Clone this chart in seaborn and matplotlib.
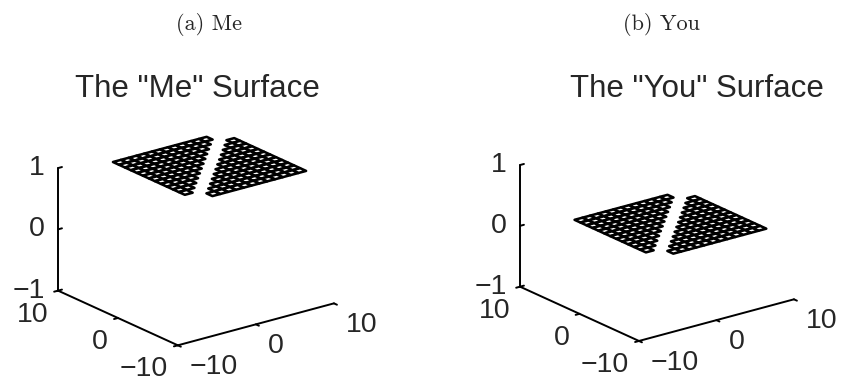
import numpy as np
import matplotlib
matplotlib.use("Agg")
import matplotlib.pyplot as plt
import seaborn as sns
from mpl_toolkits.mplot3d import proj3d
from mpl_toolkits.mplot3d.art3d import Poly3DCollection

sns.set_theme(style="white")
plt.rcParams["font.family"] = ["Liberation Sans", "DejaVu Sans"]

# Sample grid of the two flat surfaces
x_grid = np.arange(-4.5, 10.0, 1.0)
y_grid = np.arange(-6.0, 9.0, 1.0)
surface_levels = [1.0, 0.0]          # "Me" sits at z = 1, "You" at z = 0

panel_captions = ["(a) Me", "(b) You"]
panel_titles = ['The "Me" Surface', 'The "You" Surface']

xy_limits = (-10, 10)
z_limits = (-1, 1)
xy_ticks = [-10, 0, 10]
xy_tick_labels = ["\u221210", "0", "10"]
z_ticks = [-1, 0, 1]
z_tick_labels = ["\u22121", "0", "1"]

W, H, DPI = 844, 385, 100
fig = plt.figure(figsize=(W / DPI, H / DPI), dpi=DPI)
fig.patch.set_facecolor("white")

# pixel anchors (from top-left) for the floor corners (-10, 10, -1) and (10, -10, -1)
corner_px = [((58, 292), (334, 302)), ((520, 288), (794, 298))]
caption_px = [(209, 25), (661, 25)]
title_px = [(197, 89), (697, 89)]

TICK_FS = 20.5
TITLE_FS = 22.5
CAPTION_FS = 16
LW = 1.4


def mesh_cells(X, Y, Z):
    """Quadrilateral cells of a gridded surface, skipping cells that touch a NaN."""
    cells = []
    ny, nx = Z.shape
    for j in range(ny - 1):
        for i in range(nx - 1):
            zs = Z[j:j + 2, i:i + 2]
            if np.isnan(zs).any():
                continue
            cells.append([(X[j, i], Y[j, i], Z[j, i]),
                          (X[j, i + 1], Y[j, i + 1], Z[j, i + 1]),
                          (X[j + 1, i + 1], Y[j + 1, i + 1], Z[j + 1, i + 1]),
                          (X[j + 1, i], Y[j + 1, i], Z[j + 1, i])])
    return cells


axes = []
for k in range(2):
    ax = fig.add_axes([0.05 + 0.5 * k, 0.1, 0.4, 0.4 * W / H], projection="3d")
    ax.set_proj_type("ortho")
    ax.view_init(elev=20.5, azim=-127.5)
    ax.set_box_aspect((1, 1, 0.665))
    ax.set_xlim(*xy_limits)
    ax.set_ylim(*xy_limits)
    ax.set_zlim(*z_limits)
    ax.set_axis_off()
    ax.patch.set_alpha(0)

    X, Y = np.meshgrid(x_grid, y_grid)
    Z = np.full(X.shape, surface_levels[k])
    idx = np.arange(min(X.shape))
    Z[idx, idx] = np.nan            # open slit along the grid diagonal
    mesh = Poly3DCollection(mesh_cells(X, Y, Z), facecolor="white",
                            edgecolor="black", linewidths=1.85)
    ax.add_collection3d(mesh)

    x0, x1 = xy_limits
    z0, z1 = z_limits
    # axis lines: z at the left corner, y along the front-left, x along the front-right
    ax.plot([x0, x0], [x1, x1], [z0, z1], color="black", lw=LW, solid_capstyle="round")
    ax.plot([x0, x0], [x1, x0], [z0, z0], color="black", lw=LW, solid_capstyle="round")
    ax.plot([x0, x1], [x0, x0], [z0, z0], color="black", lw=LW, solid_capstyle="round")
    t = 0.5
    for v in xy_ticks:
        ax.plot([v, v], [x0, x0 - t], [z0, z0], color="black", lw=LW)
        ax.plot([x0, x0 - t], [v, v], [z0, z0], color="black", lw=LW)
    for v in z_ticks:
        ax.plot([x0, x0 + t], [x1, x1], [v, v], color="black", lw=LW)
    axes.append(ax)

fig.canvas.draw()


def to_disp(ax, x, y, z):
    px, py, _ = proj3d.proj_transform(x, y, z, ax.get_proj())
    return ax.transData.transform((px, py))


# scale and shift each panel so its floor corners land on the anchors
for k, ax in enumerate(axes):
    pos = ax.get_position()
    side = pos.width * W
    cx = (pos.x0 + pos.width / 2) * W
    cy = (pos.y0 + pos.height / 2) * H
    a = to_disp(ax, -10, 10, -1)
    b = to_disp(ax, 10, -10, -1)
    (ax_t, ay_t), (bx_t, by_t) = corner_px[k]
    at = np.array([ax_t, H - ay_t])
    bt = np.array([bx_t, H - by_t])
    s = np.linalg.norm(bt - at) / np.linalg.norm(b - a)
    mid_now = (a + b) / 2
    mid_t = (at + bt) / 2
    c_new = mid_t - (mid_now - np.array([cx, cy])) * s
    new_side = side * s
    ax.set_position([(c_new[0] - new_side / 2) / W, (c_new[1] - new_side / 2) / H,
                     new_side / W, new_side / H])

fig.canvas.draw()

for k, ax in enumerate(axes):
    M = ax.get_proj()
    x0, x1 = xy_limits
    z0, z1 = z_limits
    for v, lab in zip(z_ticks, z_tick_labels):
        px, py, _ = proj3d.proj_transform(x0, x1, v, M)
        ax.annotate(lab, xy=(px, py), xycoords="data", xytext=(-13, 0),
                    textcoords="offset pixels", ha="right", va="center",
                    fontsize=TICK_FS, annotation_clip=False)
    for v, lab in zip(xy_ticks, xy_tick_labels):
        px, py, _ = proj3d.proj_transform(x0, v, z0, M)
        ax.annotate(lab, xy=(px, py), xycoords="data", xytext=(-10, -11),
                    textcoords="offset pixels", ha="right", va="top",
                    fontsize=TICK_FS, annotation_clip=False)
        px, py, _ = proj3d.proj_transform(v, x0, z0, M)
        ax.annotate(lab, xy=(px, py), xycoords="data", xytext=(12, -9),
                    textcoords="offset pixels", ha="left", va="top",
                    fontsize=TICK_FS, annotation_clip=False)

    tx, ty = title_px[k]
    fig.text(tx / W, 1 - ty / H, panel_titles[k], ha="center", va="center",
             fontsize=TITLE_FS)
    cx, cy = caption_px[k]
    fig.text(cx / W, 1 - cy / H, panel_captions[k], ha="center", va="center",
             fontsize=CAPTION_FS, family="cmr10")

fig.savefig("out.png", dpi=DPI, facecolor="white")
